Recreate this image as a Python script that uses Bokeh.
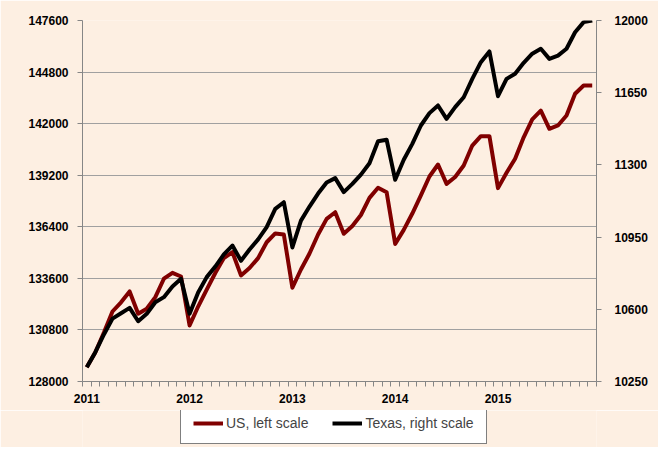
from bokeh.plotting import figure
from bokeh.layouts import column
from bokeh.models import Range1d, LinearAxis, FixedTicker, Legend, LegendItem, NumeralTickFormatter
from bokeh.embed import file_html
from bokeh.resources import INLINE

months = list(range(60))
year_ticks = [0, 12, 24, 36, 48]
year_labels = ["2011", "2012", "2013", "2014", "2015"]
us_ticks = [128000, 130800, 133600, 136400, 139200, 142000, 144800, 147600]
tx_ticks = [10250, 10600, 10950, 11300, 11650, 12000]
series_names = ["US, left scale", "Texas, right scale"]

us = [128780, 129590, 130660, 131800, 132300, 132890, 131680, 131950, 132580, 133580, 133900, 133700,
      131040, 132070, 132990, 133890, 134700, 135020, 133760, 134160, 134700, 135560, 136040, 135980,
      133090, 134080, 134950, 135980, 136830, 137190, 136020, 136440, 137040, 137970, 138520, 138280,
      135470, 136230, 137120, 138100, 139130, 139780, 138730, 139100, 139730, 140810, 141320, 141320,
      138500, 139330, 140090, 141260, 142230, 142710, 141720, 141900, 142440, 143620, 144070, 144070]

tx = [10319, 10392, 10478, 10555, 10581, 10607, 10542, 10578, 10634, 10659, 10711, 10748,
      10578, 10681, 10756, 10807, 10866, 10909, 10835, 10890, 10939, 10998, 11087, 11119,
      10900, 11030, 11098, 11161, 11215, 11236, 11168, 11208, 11253, 11308, 11415, 11422,
      11228, 11325, 11402, 11491, 11551, 11588, 11523, 11580, 11628, 11717, 11798, 11850,
      11633, 11717, 11742, 11795, 11839, 11863, 11814, 11830, 11863, 11943, 11992, 12000]

BG = "#FDEFE2"
AX = "#868686"
FONT = "Liberation Sans"
US_COLOR = "#800000"
TX_COLOR = "black"

p = figure(width=658, height=410, output_backend="svg", toolbar_location=None,
           x_range=Range1d(-0.5, 59.5), y_range=Range1d(us_ticks[0], us_ticks[-1]),
           min_border_left=82, min_border_right=62, min_border_top=20, min_border_bottom=29)
p.background_fill_color = BG
p.border_fill_color = BG
p.outline_line_color = None
p.xgrid.visible = False
p.ygrid.ticker = FixedTicker(ticks=us_ticks)
p.ygrid.grid_line_color = "#A0A0A0"
p.ygrid.grid_line_width = 1

# x axis
xa = p.xaxis[0]
xa.ticker = FixedTicker(ticks=year_ticks, minor_ticks=[i - 0.5 for i in range(61)])
xa.major_label_overrides = {t: l for t, l in zip(year_ticks, year_labels)}
xa.major_tick_out = 0
xa.major_tick_in = 0
xa.minor_tick_out = 5
xa.minor_tick_in = 0
xa.minor_tick_line_color = AX
xa.axis_line_color = AX
xa.major_label_standoff = 7
xa.major_label_text_font = FONT
xa.major_label_text_font_style = "bold"
xa.major_label_text_font_size = "12px"
xa.major_label_text_color = "black"

# left axis
ya = p.yaxis[0]
ya.ticker = FixedTicker(ticks=us_ticks, minor_ticks=[])
ya.formatter = NumeralTickFormatter(format="0")
ya.major_tick_out = 5
ya.major_tick_in = 0
ya.major_tick_line_color = AX
ya.axis_line_color = AX
ya.major_label_standoff = 9
ya.major_label_text_font = FONT
ya.major_label_text_font_style = "bold"
ya.major_label_text_font_size = "12px"
ya.major_label_text_color = "black"

# right axis
p.extra_y_ranges = {"tx": Range1d(tx_ticks[0], tx_ticks[-1])}
ra = LinearAxis(y_range_name="tx", ticker=FixedTicker(ticks=tx_ticks, minor_ticks=[]),
                formatter=NumeralTickFormatter(format="0"))
ra.major_tick_out = 5
ra.major_tick_in = 0
ra.major_tick_line_color = AX
ra.axis_line_color = AX
ra.major_label_standoff = 13
ra.major_label_text_font = FONT
ra.major_label_text_font_style = "bold"
ra.major_label_text_font_size = "12px"
ra.major_label_text_color = "black"
p.add_layout(ra, "right")

p.line(months, us, line_color=US_COLOR, line_width=4, line_join="round")
p.line(months, tx, line_color=TX_COLOR, line_width=4, line_join="round", y_range_name="tx")

# legend strip (frame aligned with the chart above by the column layout)
lg = figure(width=658, height=37, output_backend="svg", toolbar_location=None,
            x_range=Range1d(0, 1), y_range=Range1d(0, 1),
            x_axis_location=None, y_axis_location=None,
            min_border_left=0, min_border_right=0, min_border_top=0, min_border_bottom=0)
lg.background_fill_color = BG
lg.border_fill_color = BG
lg.outline_line_color = None
lg.grid.visible = False
nan = float("nan")
d_us = lg.line(x=[nan], y=[nan], line_color=US_COLOR, line_width=4)
d_tx = lg.line(x=[nan], y=[nan], line_color=TX_COLOR, line_width=4)
legend = Legend(items=[LegendItem(label=series_names[0], renderers=[d_us]),
                       LegendItem(label=series_names[1], renderers=[d_tx])],
                orientation="horizontal", location=(98, 3),
                background_fill_color="white", background_fill_alpha=1.0,
                border_line_color="black", border_line_width=1,
                label_text_font=FONT, label_text_font_size="14px",
                glyph_width=30, glyph_height=16, label_height=16,
                padding=12, spacing=24, label_standoff=3, margin=0)
legend.padding = 12
lg.add_layout(legend)

open("out.html", "w").write(file_html(column(p, lg, spacing=0), INLINE))
